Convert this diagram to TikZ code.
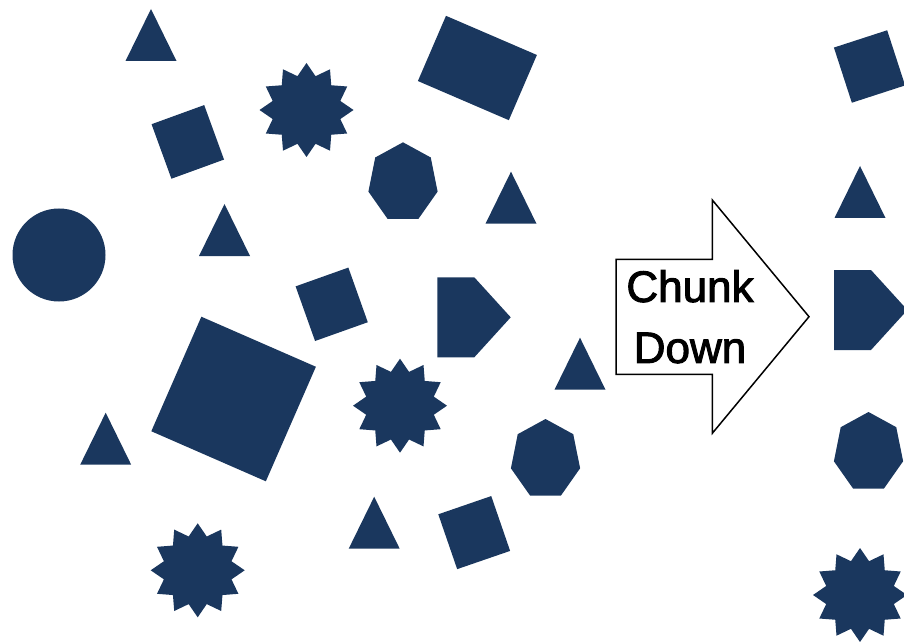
\documentclass[tikz,border=0pt]{standalone}
\usepackage{fontspec}
\newfontfamily\chunkfont[FakeBold=2.2]{Liberation Sans}
\definecolor{navy}{HTML}{1A375E}

\begin{document}
\begin{tikzpicture}[
  x=1pt, y=1pt,
  shp/.style={fill=navy},
  bigarrow/.style={draw=black,fill=white,line width=1.5},
  every node/.style={font=\chunkfont\fontsize{44}{61}\selectfont}
]
\useasboundingbox (0,0) rectangle (904,641);
\clip (0,0) rectangle (904,641);
% triangles, given by the middle of the base
\foreach \x/\y in {151/580, 224.5/385, 511/417.3, 105.7/176.3, 580/251.3, 374.2/92.3, 860/423} {
  \fill[shp] (\x,\y) ++(-25.5,0) -- ++(51,0) -- ++(-25.5,52) -- cycle;
}
% small squares
\foreach \x/\y/\a in {187.8/499.1/20, 331.7/336.7/19.6, 474.2/108.4/19, 869.5/574.5/18} {
  \fill[shp,shift={(\x,\y)},rotate=\a] (-28,-29) rectangle (28,29);
}
% big square and the rectangle
\fill[shp,shift={(233.6,242)},rotate=-23.6] (-62.5,-62.5) rectangle (62.5,62.5);
\fill[shp,shift={(477.4,573)},rotate=-23.3] (-49.5,-35.5) rectangle (49.5,35.5);
% circle
\fill[shp] (59,386) circle (46.5);
% stars
\foreach \x/\y in {306.5/531, 400/235.3, 197.7/70.7, 860/46} {
  \fill[shp] (\x,\y) +(90:47) \foreach \k in {0,...,11} { -- +(90+30*\k:47) -- +(105+30*\k:35) } -- cycle;
}
% heptagons
\foreach \x/\y in {403/458.4, 545.5/181.7, 868.5/188.7} {
  \fill[shp] (\x,\y) +(90:35.5 and 40.3) \foreach \k in {1,...,6} { -- +(90+360/7*\k:35.5 and 40.3) } -- cycle;
}
% pentagons, given by the top left corner
\foreach \x/\y in {437.3/363.7, 834/371} {
  \fill[shp] (\x,\y) -- ++(37,0) -- ++(36.4,-40) -- ++(-36.4,-40) -- ++(-37,0) -- cycle;
}
% the arrow
\draw[bigarrow] (616,381.7) -- (712.3,381.7) -- (712.3,441) -- (809,324.3)
  -- (712.3,207.7) -- (712.3,266.7) -- (616,266.7) -- cycle;
\node[align=center,inner sep=0] (chunk) at (690,324.3) {Chunk\\Down};
\end{tikzpicture}
\end{document}
